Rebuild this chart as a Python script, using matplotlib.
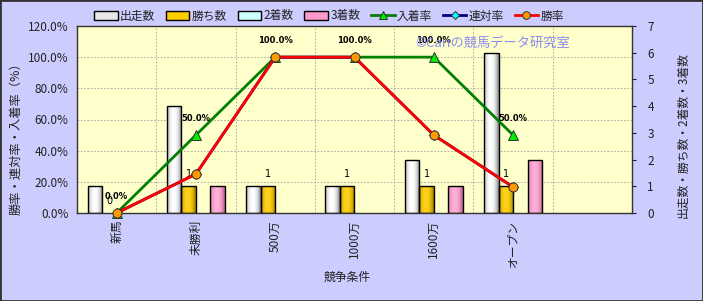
import matplotlib
matplotlib.use("Agg")
import matplotlib.pyplot as plt
import numpy as np
from matplotlib.colors import to_rgb
from matplotlib.lines import Line2D
from matplotlib.patches import Patch, Rectangle

plt.rcParams['font.family'] = ['Noto Sans CJK JP', 'DejaVu Sans']

# Data
categories = ["新馬", "未勝利", "500万", "1000万", "1600万", "オープン"]
starts = [1, 4, 1, 1, 2, 6]
wins = [0, 1, 1, 1, 1, 1]
seconds = [0, 0, 0, 0, 0, 0]
thirds = [0, 1, 0, 0, 1, 2]
place_rate = [0.0, 50.0, 100.0, 100.0, 100.0, 50.0]
rentai_rate = [0.0, 25.0, 100.0, 100.0, 50.0, 16.7]
win_rate = [0.0, 25.0, 100.0, 100.0, 50.0, 16.7]

BG = "#CCCCFF"
PLOT_BG = "#FFFFCC"
TXT = "#222222"


def cylinder(ax, bars, dark, light):
    """Paint a horizontal cylinder-like gradient inside each bar."""
    t = np.linspace(0, 1, 64)
    f = np.sin(np.pi * np.clip(t * 1.1, 0, 1)) ** 0.6
    d, l = np.array(to_rgb(dark)), np.array(to_rgb(light))
    img = (d[None, :] * (1 - f[:, None]) + l[None, :] * f[:, None])[None, :, :]
    for b in bars:
        if b.get_height() <= 0:
            b.set_visible(False)
            continue
        x0, w, h = b.get_x(), b.get_width(), b.get_height()
        im = ax.imshow(img, extent=[x0, x0 + w, 0, h], aspect="auto",
                       zorder=b.get_zorder() - 0.5, interpolation="bilinear")
        im.set_clip_path(b)
        b.set_facecolor("none")


fig = plt.figure(figsize=(7.03, 3.01), dpi=100, facecolor=BG)
ax = fig.add_axes([77 / 703, 1 - 213 / 301, (632 - 77) / 703, (213 - 26) / 301])
ax.set_facecolor(PLOT_BG)

x = np.arange(len(categories))
w = 0.183
series = [
    (starts, "出走数", "#9A9A9A", "#FFFFFF", "#E8E8E8"),
    (wins, "勝ち数", "#B08A00", "#FFD21A", "#FFCC00"),
    (seconds, "2着数", "#88BBBB", "#E8FFFF", "#CCFFFF"),
    (thirds, "3着数", "#C86A9A", "#FFB0D8", "#FF99CC"),
]
handles = []
for i, (vals, name, dark, light, mid) in enumerate(series):
    bars = ax.bar(x + (i - 1.5) * w, vals, w, edgecolor="black", linewidth=1.0,
                  zorder=3)
    cylinder(ax, bars, dark, light)
    handles.append(Patch(facecolor=mid, edgecolor="black", linewidth=1.0, label=name))
    if name == "勝ち数":
        for xi, v in zip(x + (i - 1.5) * w, vals):
            ax.annotate(f"{v}", (xi, v), xytext=(0, 9), textcoords="offset points",
                        ha="center", va="center", fontsize=7, color="black",
                        family="DejaVu Sans", zorder=6)

ax.set_xlim(-0.5, 6.5)
ax.set_ylim(0, 7)
ax.set_yticks(range(8))
ax.set_xticks(x)
ax.set_xticklabels(categories, rotation=90, fontsize=8.5, color=TXT)
ax.tick_params(axis="x", length=0, pad=5)
for k in range(1, 6):
    ax.axhline(k * 7 / 6, color="#A0A0A0", lw=0.6, ls=(0, (2, 2)), zorder=0)
for k in range(7):
    ax.axvline(k + 0.5, color="#A0A0A0", lw=0.6, ls=(0, (2, 2)), zorder=0)
for s in ax.spines.values():
    s.set_color("#333333")
    s.set_linewidth(1.0)

ax2 = ax.twinx()
# twinx moves the original ticks to the left, so set sides afterwards
ax.yaxis.tick_right()
ax.tick_params(axis="y", direction="out", length=3, labelsize=8.5, colors=TXT, pad=8)
ax2.yaxis.tick_left()
ax2.set_ylim(0, 120)
ax2.set_yticks(np.arange(0, 121, 20))
ax2.set_yticklabels([f"{v:.1f}%" for v in np.arange(0, 121, 20)])
ax2.tick_params(axis="y", length=0, labelsize=8.5, colors=TXT, pad=6)
for s in ax2.spines.values():
    s.set_visible(False)

lines = [
    (place_rate, "入着率", "#008000", "^", "#00EE00", 7),
    (rentai_rate, "連対率", "#000080", "D", "#00FFFF", 5),
    (win_rate, "勝率", "#FF0000", "o", "#FF9900", 6.5),
]
for j, (vals, name, col, mk, mfc, ms) in enumerate(lines):
    ax2.plot(x, vals, color=col, lw=2, marker=mk, markersize=ms,
             markerfacecolor=mfc, markeredgecolor="#333333", markeredgewidth=0.7,
             zorder=4 + j * 0.1, clip_on=False)
    handles.append(Line2D([], [], color=col, lw=2, marker=mk, markersize=ms - 1,
                          markerfacecolor=mfc, markeredgecolor="#333333",
                          markeredgewidth=0.7, label=name))

for xi, v in zip(x, place_rate):
    ax2.annotate(f"{v:.1f}%", (xi, v), xytext=(0, 12), textcoords="offset points",
                 ha="center", va="center", fontsize=6, fontweight="bold",
                 family="DejaVu Sans", color="black", zorder=6)

fig.legend(handles=handles, loc="center", bbox_to_anchor=(329 / 703, 1 - 16 / 301),
           ncol=7, frameon=False, fontsize=8.5, handlelength=2.0, handletextpad=0.2,
           columnspacing=0.9, labelcolor=TXT)

fig.text(415 / 703, 1 - 43 / 301, "©Cariの競馬データ研究室", fontsize=9.5,
         color="#8C8CF0", ha="left", va="center")
fig.text(16 / 703, 1 - 136 / 301, "勝率・連対率・入着率（%）", rotation=90,
         fontsize=8.8, color=TXT, ha="center", va="center")
fig.text(683 / 703, 1 - 135 / 301, "出走数・勝ち数・2着数・3着数", rotation=90,
         fontsize=8.5, color=TXT, ha="center", va="center")
fig.text(347 / 703, 1 - 277 / 301, "競争条件", fontsize=8.5, color=TXT,
         ha="center", va="center")

fig.patches.append(Rectangle((0, 0), 1, 1, transform=fig.transFigure, fill=False,
                             edgecolor="#333333", linewidth=2, zorder=10))

fig.savefig("out.png", dpi=100, facecolor=BG)
